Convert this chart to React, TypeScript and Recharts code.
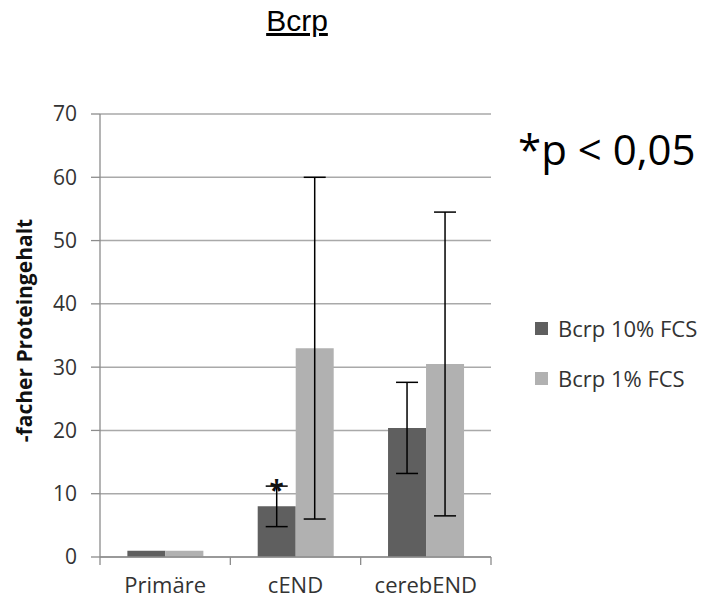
import React from 'react';
import {
  BarChart,
  Bar,
  XAxis,
  YAxis,
  CartesianGrid,
  ErrorBar,
  Legend,
  LabelList,
} from 'recharts';

// Bcrp protein content relative to primary cells
const categories = ['Primäre', 'cEND', 'cerebEND'];
const fcs10Values = [1, 8, 20.4];
const fcs10Errors = [0, 3.2, 7.2];
const fcs1Values = [1, 33, 30.5];
const fcs1Errors = [0, 27, 24];
const significance = ['', '*', ''];
const seriesNames = ['Bcrp 10% FCS', 'Bcrp 1% FCS'];
const seriesColors = ['#5f5f5f', '#b1b1b1'];
const yTicks = [0, 10, 20, 30, 40, 50, 60, 70];

const data = categories.map((category, i) => ({
  category,
  fcs10: fcs10Values[i],
  fcs10Err: fcs10Errors[i],
  fcs1: fcs1Values[i],
  fcs1Err: fcs1Errors[i],
  sig: significance[i],
}));

const FONT = '"Open Sans", sans-serif';
const TEXT = '#333333';
const AXIS = '#8c8c8c';
const GRID = '#a9a9a9';
const X_TICK_SIZE = 8;
const X_TICK_MARGIN = 12;

// Category label plus tick marks on the category boundaries
const CategoryTick = (props: any) => {
  const { x, y, payload, index, visibleTicksCount } = props;
  const half = payload?.offset ?? 0;
  const axisY = y - X_TICK_SIZE - X_TICK_MARGIN;
  const isLast = index === (visibleTicksCount ?? categories.length) - 1;
  return (
    <g>
      <line
        x1={x - half}
        x2={x - half}
        y1={axisY}
        y2={axisY + X_TICK_SIZE}
        stroke={AXIS}
        strokeWidth={1.3}
      />
      {isLast && (
        <line
          x1={x + half}
          x2={x + half}
          y1={axisY}
          y2={axisY + X_TICK_SIZE}
          stroke={AXIS}
          strokeWidth={1.3}
        />
      )}
      <text
        x={x}
        y={y}
        dy="0.71em"
        textAnchor="middle"
        fontFamily={FONT}
        fontSize={22}
        fill={TEXT}
      >
        {payload.value}
      </text>
    </g>
  );
};

// Asterisk placed on top of the upper error whisker
const StarLabel = (props: any) => {
  const vb = props.viewBox ?? props;
  const x = props.x ?? vb.x;
  const y = props.y ?? vb.y;
  const width = props.width ?? vb.width;
  const height = props.height ?? vb.height;
  const { value, index } = props;
  if (!value) return null;
  const row = data[index];
  const pxPerUnit = height / row.fcs10;
  const top = y - row.fcs10Err * pxPerUnit;
  return (
    <text
      x={x + width / 2}
      y={top + 14}
      textAnchor="middle"
      fontSize={26}
      fontFamily={FONT}
      fontWeight="bold"
      fill="#111"
    >
      {value}
    </text>
  );
};

const LegendContent = () => (
  <div style={{ fontFamily: FONT, fontSize: 22, color: TEXT }}>
    {seriesNames.map((name, i) => (
      <div
        key={name}
        style={{ display: 'flex', alignItems: 'center', height: 50 }}
      >
        <span
          style={{
            display: 'inline-block',
            width: 13,
            height: 13,
            background: seriesColors[i],
            marginRight: 10,
          }}
        />
        <span>{name}</span>
      </div>
    ))}
  </div>
);

const YLabel = (props: any) => {
  const vb = props.viewBox;
  const cy = vb.y + vb.height / 2 - 5;
  return (
    <text
      x={24}
      y={cy}
      transform={`rotate(-90, 24, ${cy})`}
      textAnchor="middle"
      dominantBaseline="central"
      fontFamily={FONT}
      fontWeight="bold"
      fontSize={21}
      fill="#111"
    >
      -facher Proteingehalt
    </text>
  );
};

export default function App() {
  return (
    <div
      style={{
        position: 'absolute',
        left: 0,
        top: 0,
        width: 704,
        height: 603,
        background: '#fff',
      }}
    >
      <BarChart
        width={704}
        height={603}
        data={data}
        margin={{ top: 114, right: 213, bottom: 6, left: 40 }}
        barCategoryGap="21%"
        barGap={0}
      >
        <CartesianGrid
          horizontal
          vertical={false}
          stroke={GRID}
          strokeWidth={1.5}
        />
        <XAxis
          dataKey="category"
          height={40}
          axisLine={{ stroke: AXIS, strokeWidth: 1.3 }}
          tickLine={false}
          tickSize={X_TICK_SIZE}
          tickMargin={X_TICK_MARGIN}
          tick={<CategoryTick />}
          interval={0}
        />
        <YAxis
          width={60}
          domain={[0, 70]}
          ticks={yTicks}
          interval={0}
          axisLine={{ stroke: AXIS, strokeWidth: 1.3 }}
          tickLine={{ stroke: AXIS, strokeWidth: 1.3 }}
          tickSize={9}
          tickMargin={14}
          tick={{ fontFamily: FONT, fontSize: 21, fill: TEXT }}
          label={{ content: YLabel }}
        />
        <Legend
          layout="vertical"
          align="center"
          verticalAlign="middle"
          content={<LegendContent />}
          wrapperStyle={{ left: 535, top: 303, width: 170 }}
        />
        <Bar
          dataKey="fcs10"
          name={seriesNames[0]}
          fill={seriesColors[0]}
          isAnimationActive={false}
        >
          <ErrorBar dataKey="fcs10Err" width={11} stroke="#000" strokeWidth={1.5} />
          <LabelList dataKey="sig" content={StarLabel} />
        </Bar>
        <Bar
          dataKey="fcs1"
          name={seriesNames[1]}
          fill={seriesColors[1]}
          isAnimationActive={false}
        >
          <ErrorBar dataKey="fcs1Err" width={11} stroke="#000" strokeWidth={1.5} />
        </Bar>
      </BarChart>
      <svg
        width={704}
        height={603}
        style={{ position: 'absolute', left: 0, top: 0, pointerEvents: 'none' }}
      >
        <text
          x={297}
          y={31}
          textAnchor="middle"
          fontFamily='"Liberation Sans", Arial, sans-serif'
          fontSize={30}
          fill="#000"
          textDecoration="underline"
        >
          Bcrp
        </text>
        <text x={518} y={165} fontFamily={FONT} fontSize={42} fill="#000">
          *p &lt; 0,05
        </text>
      </svg>
    </div>
  );
}
